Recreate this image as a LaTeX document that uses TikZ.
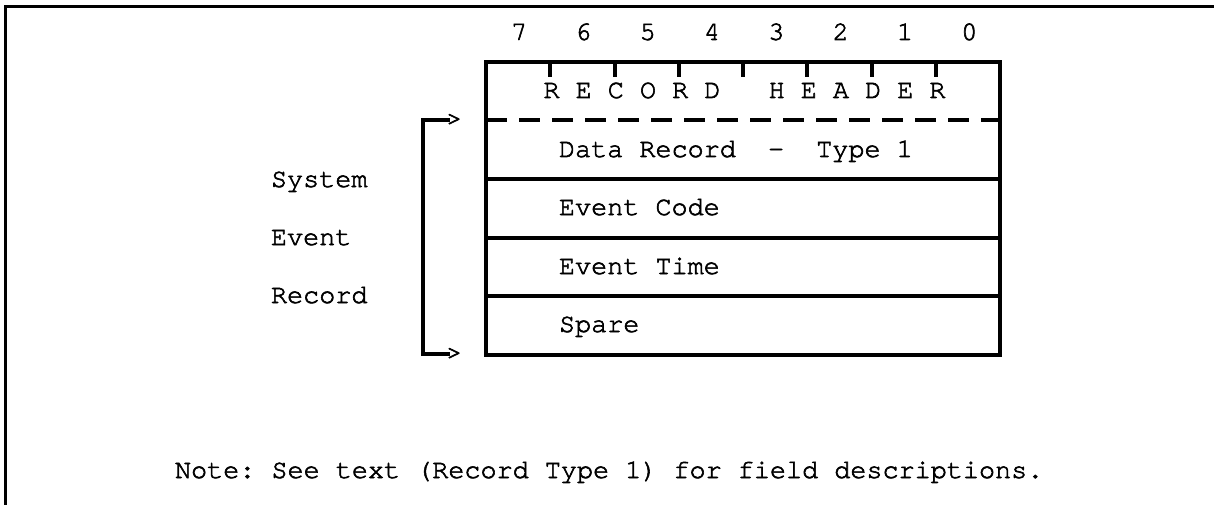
\documentclass[tikz,border=0pt]{standalone}
\usepackage{fontspec}
\setmainfont{TeX Gyre Cursor}[Ligatures=NoCommon,RawFeature={embolden=2.2}]
\frenchspacing
\begin{document}
\begin{tikzpicture}[x=1pt,y=-1pt,
  txt/.style={inner sep=0pt,outer sep=0pt,anchor=base west,font=\fontsize{26.8}{30}\selectfont},
  rule/.style={line width=4pt,line cap=rect,line join=miter},
  field/.style={minimum width=514pt,minimum height=58.5pt,inner sep=0pt,outer sep=0pt,anchor=north west},
  tip/.style={inner sep=0pt,outer sep=0pt,anchor=west,font=\fontsize{26.8}{30}\selectfont}]
\useasboundingbox[fill=white] (0,0) rectangle (1214,505);

% outer frame (top and left edge)
\draw[line width=3pt,line cap=rect] (1216,7) -- (5,7) -- (5,507);

% bit numbers
\node[txt] (bits) at (511,40) {7\ \ \ 6\ \ \ 5\ \ \ 4\ \ \ 3\ \ \ 2\ \ \ 1\ \ \ 0};

% record fields
\node[field] (hdr)   at (486,62)    {};
\node[field] (rec)   at (486,120.5) {};
\node[field] (code)  at (486,179)   {};
\node[field] (time)  at (486,237.5) {};
\node[field] (spare) at (486,296)   {};

% field texts
\node[txt] (thdr)   at (543.5,98) {R\ E\ C\ O\ R\ D\ \ \ H\ E\ A\ D\ E\ R};
\node[txt] (trec)   at (559,157)  {Data\ Record\ \ -\ \ Type\ 1};
\node[txt] (tcode)  at (559,215)  {Event Code};
\node[txt] (ttime)  at (559,274)  {Event Time};
\node[txt] (tspare) at (559,332)  {Spare};

% box outline and separators
\draw[rule] (hdr.north west) -- (hdr.north east);
\draw[rule] (hdr.north west) -- (spare.south west);
\draw[rule] (hdr.north east) -- (spare.south east);
\draw[line width=4pt,dash pattern=on 20.5pt off 12.5pt] (hdr.south west) -- (hdr.south east);
\draw[rule] (rec.south west) -- (rec.south east);
\draw[rule] (code.south west) -- (code.south east);
\draw[rule] (time.south west) -- (time.south east);
\draw[rule] (spare.south west) -- (spare.south east);

% bit boundary ticks on the header
\foreach \i in {1,...,7}
  \draw[line width=4pt] ([xshift=\i*64.25pt]hdr.north west) -- ++(0,15);

% bracket spanning the event record
\coordinate (btop) at (423,120.5);
\coordinate (bbot) at (423,354);
\coordinate (atop) at (448,120.5);
\coordinate (abot) at (448,354);
\draw[rule] (atop) -- (btop) -- (bbot) -- (abot);
\node[tip] (gtop) at (446,120) {>};
\node[tip] (gbot) at (446,354) {>};

% side label
\node[txt] (l1) at (271,187) {System};
\node[txt] (l2) at (271,245) {Event};
\node[txt] (l3) at (271,303) {Record};

% footnote
\node[txt] (note) at (175,478) {Note: See text (Record Type 1) for field descriptions.};
\end{tikzpicture}
\end{document}
